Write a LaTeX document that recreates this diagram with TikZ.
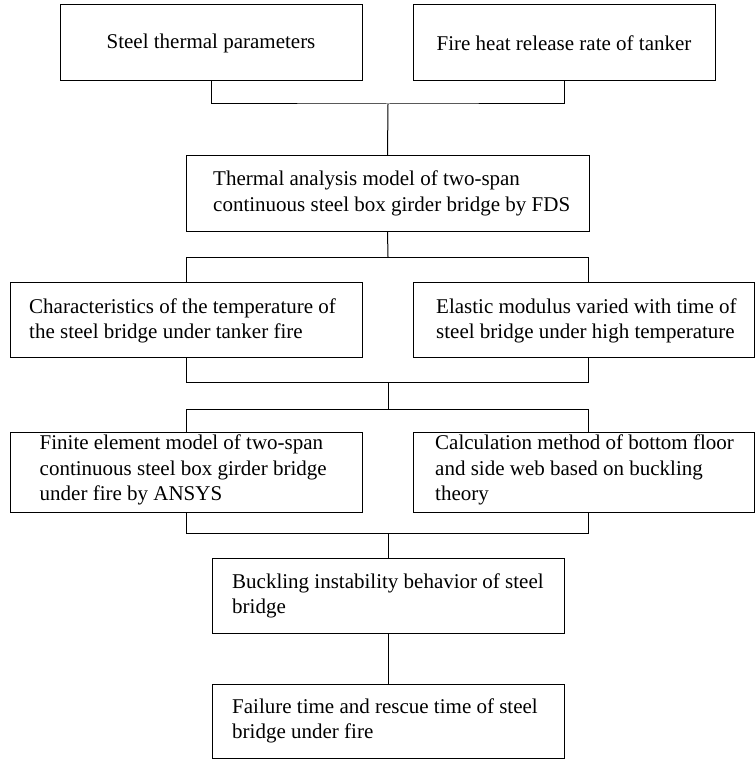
\documentclass[tikz,border=0pt]{standalone}
\usepackage{fontspec}
\setmainfont{Liberation Serif}
\begin{document}
\begin{tikzpicture}[x=1pt,y=-1pt,
  box/.style={draw=black,line width=1pt,rectangle,inner sep=0pt},
  txt/.style={inner sep=0pt,align=left,font=\fontsize{21}{25.5}\selectfont},
  conn/.style={draw=black,line width=1pt}]
\useasboundingbox[fill=white] (0,0) rectangle (755,759);
% boxes
\node[box,minimum width=302pt,minimum height=76pt] (b1) at (211,43) {};
\node[box,minimum width=302pt,minimum height=76pt] (b2) at (564,43) {};
\node[box,minimum width=403pt,minimum height=75pt] (b3) at (387.5,193.5) {};
\node[box,minimum width=352pt,minimum height=75pt] (b4) at (186,319.5) {};
\node[box,minimum width=341pt,minimum height=75pt] (b5) at (583.5,319.5) {};
\node[box,minimum width=352pt,minimum height=80pt] (b6) at (186,472) {};
\node[box,minimum width=341pt,minimum height=80pt] (b7) at (583.5,472) {};
\node[box,minimum width=352pt,minimum height=75pt] (b8) at (388,595.5) {};
\node[box,minimum width=352pt,minimum height=74pt] (b9) at (388,721) {};
% texts
\node[txt] (t1) at (b1.center) {Steel thermal parameters};
\node[txt] (t2) at (b2.center) {Fire heat release rate of tanker};
\node[txt,anchor=west] (t3) at (213,193.5) {Thermal analysis model of two-span\\continuous steel box girder bridge by FDS};
\node[txt,anchor=west] (t4) at (29,321) {Characteristics of the temperature of\\the steel bridge under tanker fire};
\node[txt,anchor=west] (t5) at (436,321) {Elastic modulus varied with time of\\steel bridge under high temperature};
\node[txt,anchor=west] (t6) at (39.5,470) {Finite element model of two-span\\continuous steel box girder bridge\\under fire by ANSYS};
\node[txt,anchor=west] (t7) at (435,470) {Calculation method of bottom floor\\and side web based on buckling\\theory};
\node[txt,anchor=west] (t8) at (232,596) {Buckling instability behavior of steel\\bridge};
\node[txt,anchor=west] (t9) at (232,721) {Failure time and rescue time of steel\\bridge under fire};
% junction coordinates
\coordinate (j1) at (388,104);
\coordinate (j2) at (388,257);
\coordinate (j2l) at (186,257);
\coordinate (j2r) at (588,257);
\coordinate (j3l) at (186,382);
\coordinate (j3r) at (588,382);
\coordinate (j3) at (388,382);
\coordinate (j4) at (388,409);
\coordinate (j4l) at (186,409);
\coordinate (j4r) at (588,409);
\coordinate (j5l) at (186,533);
\coordinate (j5r) at (588,533);
\coordinate (j5) at (388,533);
% connectors
\draw[conn] (b1.south) |- (j1) -| (b2.south);
\draw[conn] (j1) -- (b3.north);
\draw[conn] (b3.south) -- (j2);
\draw[conn] (b4.north) -- (j2l) -- (j2r) -- (j2r |- b5.north);
\draw[conn] (b4.south) -- (j3l) -- (j3r) -- (j3r |- b5.south);
\draw[conn] (j3) -- (j4);
\draw[conn] (b6.north) -- (j4l) -- (j4r) -- (j4r |- b7.north);
\draw[conn] (b6.south) -- (j5l) -- (j5r) -- (j5r |- b7.south);
\draw[conn] (j5) -- (b8.north);
\draw[conn] (b8.south) -- (b9.north);
\end{tikzpicture}
\end{document}
